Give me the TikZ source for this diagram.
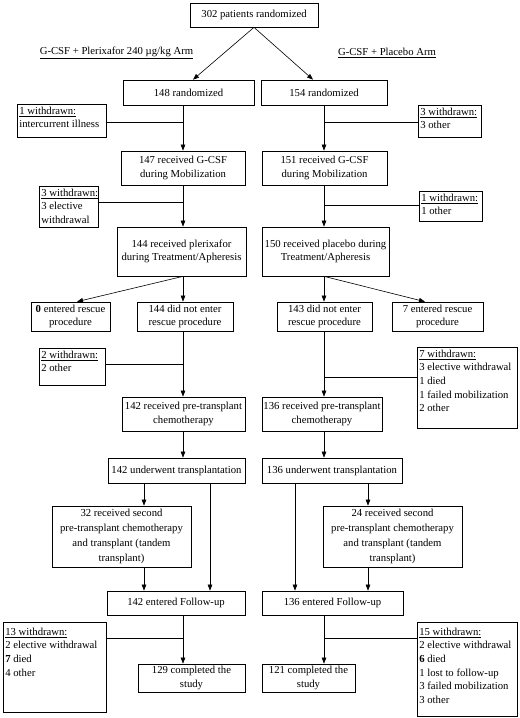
\documentclass[tikz,border=0pt]{standalone}
\usepackage{fontspec}
\setmainfont{Liberation Serif}
\usetikzlibrary{arrows.meta,calc}
\newcommand{\boxfont}{\fontsize{10.7bp}{13.6bp}\selectfont}
\newcommand{\wtxt}[3]{\parbox[c][#2][t]{#1}{\raggedright #3}}
\tikzset{
  box/.style={draw, line width=0.7bp, inner sep=1bp, align=center, font=\boxfont},
  wbox/.style={draw, line width=0.7bp, inner xsep=2bp, inner ysep=2.5bp, anchor=north west, font=\boxfont},
  arr/.style={line width=0.6bp, -{Triangle[length=6bp,width=4.5bp]}},
  ln/.style={line width=0.6bp},
  hdr/.style={font=\boxfont, inner sep=0pt}
}
\begin{document}
\begin{tikzpicture}[x=1bp,y=-1bp]
\useasboundingbox (0,0) rectangle (520,718);
% trunks
\coordinate (L) at (183,0);
\coordinate (R) at (324,0);
\coordinate (LA) at (144,0);
\coordinate (LB) at (210,0);
\coordinate (RA) at (295,0);
\coordinate (RB) at (368,0);
% main boxes
\node[box, minimum width=128bp, minimum height=24bp] (n302) at (254,15) {302 patients randomized};
\node[hdr] (hL) at (116.5,53) {\underline{G-CSF + Plerixafor 240 µg/kg Arm}};
\node[hdr] (hR) at (387,53) {\underline{G-CSF + Placebo Arm}};
\node[box, minimum width=131bp, minimum height=25bp] (n148) at (188.5,92.5) {148 randomized};
\node[box, minimum width=126bp, minimum height=25bp] (n154) at (324,92.5) {154 randomized};
\node[box, minimum width=124bp, minimum height=34bp] (n147) at (183,168) {147 received G-CSF\\during Mobilization};
\node[box, minimum width=125bp, minimum height=34bp] (n151) at (324.5,168) {151 received G-CSF\\during Mobilization};
\node[box, minimum width=129bp, minimum height=49bp] (n144p) at (181.5,251.5) {144 received plerixafor\\during Treatment/Apheresis};
\node[box, minimum width=127bp, minimum height=49bp] (n150p) at (325.5,251.5) {150 received placebo during\\Treatment/Apheresis};
\node[box, minimum width=79bp, minimum height=29bp] (n0res) at (70.5,316.5) {\textbf{0} entered rescue\\procedure};
\node[box, minimum width=96bp, minimum height=29bp] (n144no) at (185,316.5) {144 did not enter\\rescue procedure};
\node[box, minimum width=95bp, minimum height=29bp] (n143no) at (324.5,316.5) {143 did not enter\\rescue procedure};
\node[box, minimum width=91bp, minimum height=29bp] (n7res) at (437.5,316.5) {7 entered rescue\\procedure};
\node[box, minimum width=123bp, minimum height=34bp] (n142pre) at (183.5,414) {142 received pre-transplant\\chemotherapy};
\node[box, minimum width=120bp, minimum height=34bp] (n136pre) at (322,414) {136 received pre-transplant\\chemotherapy};
\node[box, minimum width=137bp, minimum height=25bp] (n142tx) at (176.5,470.5) {142 underwent transplantation};
\node[box, minimum width=140bp, minimum height=25bp] (n136tx) at (332,470.5) {136 underwent transplantation};
\node[box, minimum width=139bp, minimum height=61bp, font=\fontsize{10.7bp}{14.8bp}\selectfont] (n32) at (121.5,536.5) {32 received second\\pre-transplant chemotherapy\\and transplant (tandem\\transplant)};
\node[box, minimum width=139bp, minimum height=61bp, font=\fontsize{10.7bp}{14.8bp}\selectfont] (n24) at (392.5,536.5) {24 received second\\pre-transplant chemotherapy\\and transplant (tandem\\transplant)};
\node[box, minimum width=138bp, minimum height=24bp] (n142fu) at (176,603) {142 entered Follow-up};
\node[box, minimum width=141bp, minimum height=24bp] (n136fu) at (332.5,603) {136 entered Follow-up};
\node[box, minimum width=107bp, minimum height=28bp] (n129) at (191.5,678) {129 completed the\\study};
\node[box, minimum width=93bp, minimum height=28bp] (n121) at (308.5,678) {121 completed the\\study};
% withdrawn boxes
\node[wbox] (w1) at (17,104) {\wtxt{85bp}{28bp}{\underline{1 withdrawn:}\\intercurrent illness}};
\node[wbox] (w3) at (418,105) {\wtxt{59bp}{27bp}{\underline{3 withdrawn:}\\3 other}};
\node[wbox] (w2) at (39,186) {\wtxt{55bp}{36bp}{\underline{3 withdrawn:}\\3 elective\\withdrawal}};
\node[wbox] (w4) at (419,191) {\wtxt{59bp}{25bp}{\underline{1 withdrawn:}\\1 other}};
\node[wbox] (w5) at (39,348) {\wtxt{62bp}{32bp}{\underline{2 withdrawn:}\\2 other}};
\node[wbox] (w6) at (417,347) {\wtxt{96bp}{76bp}{\underline{7 withdrawn:}\\3 elective withdrawal\\1 died\\1 failed mobilization\\2 other}};
\node[wbox] (w7) at (3,622) {\wtxt{99bp}{85bp}{\vspace*{3bp}\underline{13 withdrawn:}\\2 elective withdrawal\\\textbf{7} died\\4 other}};
\node[wbox] (w8) at (417,622) {\wtxt{96bp}{89bp}{\vspace*{3bp}\underline{15 withdrawn:}\\2 elective withdrawal\\\textbf{6} died\\1 lost to follow-up\\3 failed mobilization\\3 other}};
% top split
\draw[arr] (n302.south) -- ([xshift=4.5bp]n148.north);
\draw[arr] (n302.south) -- ([xshift=-11bp]n154.north);
% left arm
\draw[arr] (n148.south -| L) -- (n147.north -| L);
\draw[arr] (n147.south -| L) -- (n144p.north -| L);
\draw[arr] (n144p.south -| L) -- (n144no.north -| L);
\draw[arr] (n144p.south -| L) -- ([xshift=6.5bp]n0res.north);
\draw[arr] (n144no.south -| L) -- (n142pre.north -| L);
\draw[arr] (n142pre.south -| L) -- (n142tx.north -| L);
\draw[arr] (n142tx.south -| LA) -- (n32.north -| LA);
\draw[arr] (n32.south -| LA) -- (n142fu.north -| LA);
\draw[arr] (n142tx.south -| LB) -- (n142fu.north -| LB);
\draw[arr] (n142fu.south -| L) -- (n129.north -| L);
% right arm
\draw[arr] (n154.south -| R) -- (n151.north -| R);
\draw[arr] (n151.south -| R) -- (n150p.north -| R);
\draw[arr] (n150p.south -| R) -- (n143no.north -| R);
\draw[arr] (n150p.south -| R) -- ([xshift=-12.5bp]n7res.north);
\draw[arr] (n143no.south -| R) -- (n136pre.north -| R);
\draw[arr] (n136pre.south -| R) -- (n136tx.north -| R);
\draw[arr] (n136tx.south -| RA) -- (n136fu.north -| RA);
\draw[arr] (n136tx.south -| RB) -- (n24.north -| RB);
\draw[arr] (n24.south -| RB) -- (n136fu.north -| RB);
\draw[arr] (n136fu.south -| R) -- (n121.north -| R);
% withdrawal side lines
\coordinate (p1) at ($(w1.north east)!0.55!(w1.south east)$);
\coordinate (p2) at ($(w2.north east)!0.39!(w2.south east)$);
\coordinate (p5) at ($(w5.north east)!0.43!(w5.south east)$);
\coordinate (p7) at ($(w7.north east)!0.18!(w7.south east)$);
\coordinate (p3) at ($(w3.north west)!0.53!(w3.south west)$);
\coordinate (p4) at ($(w4.north west)!0.47!(w4.south west)$);
\coordinate (p6) at ($(w6.north west)!0.37!(w6.south west)$);
\coordinate (p8) at ($(w8.north west)!0.17!(w8.south west)$);
\draw[ln] (p1) -- (p1 -| L);
\draw[ln] (p2) -- (p2 -| L);
\draw[ln] (p5) -- (p5 -| L);
\draw[ln] (p7) -- (p7 -| L);
\draw[ln] (p3) -- (p3 -| R);
\draw[ln] (p4) -- (p4 -| R);
\draw[ln] (p6) -- (p6 -| R);
\draw[ln] (p8) -- (p8 -| R);
\end{tikzpicture}
\end{document}
